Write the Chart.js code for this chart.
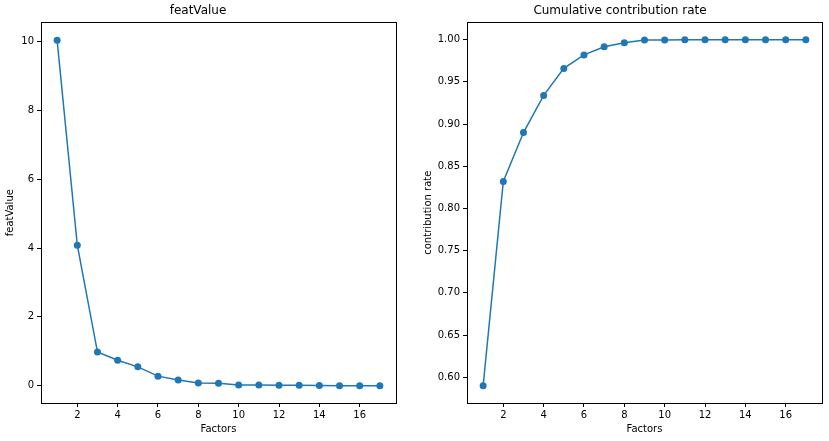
<!DOCTYPE html>
<html lang="en">
<head>
  <meta charset="UTF-8">
  <title>featValue / Cumulative contribution rate</title>
  <script src="https://cdn.jsdelivr.net/npm/chart.js"></script>
  <style>
    body {
      margin: 0;
      background: #fff;
      width: 829px;
      height: 441px;
      position: relative;
      overflow: hidden;
    }
    canvas {
      position: absolute;
      top: 0;
    }
    #featChart { left: 0; }
    #rateChart { left: 418px; }
  </style>
</head>
<body>
  <canvas id="featChart" width="410" height="441"></canvas>
  <canvas id="rateChart" width="411" height="441"></canvas>

  <script>
    // Daten
    const factors = [1, 2, 3, 4, 5, 6, 7, 8, 9, 10, 11, 12, 13, 14, 15, 16, 17];
    const featValue = [10.03, 4.08, 0.98, 0.74, 0.55, 0.28, 0.17, 0.08, 0.07, 0.02, 0.02, 0.015, 0.015, 0.01, 0.004, 0.003, 0.002];
    const cumRate = [0.590, 0.832, 0.890, 0.934, 0.966, 0.982, 0.9917, 0.9965, 0.9995, 0.9997, 0.9998, 0.9999, 0.9999, 1.0, 1.0, 1.0, 1.0];

    const xTicks = [2, 4, 6, 8, 10, 12, 14, 16];
    const featTicks = [0, 2, 4, 6, 8, 10];
    const rateTicks = [0.60, 0.65, 0.70, 0.75, 0.80, 0.85, 0.90, 0.95, 1.00];

    const blue = '#1f77b4';
    const ink = '#000';
    const fontFamily = '"DejaVu Sans", sans-serif';

    // Rahmen um den Plotbereich (wie matplotlib-Spines)
    const frame = {
      id: 'frame',
      afterDatasetsDraw(chart) {
        const a = chart.chartArea;
        const ctx = chart.ctx;
        ctx.save();
        ctx.strokeStyle = ink;
        ctx.lineWidth = 1;
        ctx.strokeRect(Math.round(a.left) + 0.5, Math.round(a.top) + 0.5,
          Math.round(a.right - a.left), Math.round(a.bottom - a.top));
        ctx.restore();
      }
    };

    function makeChart(id, opts) {
      const points = factors.map((f, i) => ({ x: f, y: opts.values[i] }));
      return new Chart(document.getElementById(id), {
        type: 'line',
        data: {
          datasets: [{
            data: points,
            borderColor: blue,
            backgroundColor: blue,
            borderWidth: 1.5,
            pointRadius: 3.5,
            pointBorderWidth: 0,
            pointBackgroundColor: blue,
            tension: 0
          }]
        },
        options: {
          responsive: false,
          animation: false,
          devicePixelRatio: 1,
          layout: { padding: { left: 0, right: opts.rightPad, top: 0, bottom: 0 } },
          plugins: {
            legend: { display: false },
            tooltip: { enabled: false },
            title: {
              display: true,
              text: opts.title,
              color: ink,
              font: { family: fontFamily, size: 12, weight: 'normal' },
              padding: { top: 4, bottom: 4 }
            }
          },
          scales: {
            x: {
              type: 'linear',
              min: 0.2,
              max: 17.8,
              afterBuildTicks: s => { s.ticks = xTicks.map(v => ({ value: v })); },
              afterFit: s => { s.height = 38; },
              border: { display: false },
              grid: { drawOnChartArea: false, drawTicks: true, tickLength: 4, color: ink },
              ticks: { color: ink, padding: 2, maxRotation: 0, font: { family: fontFamily, size: 10 } },
              title: {
                display: true,
                text: 'Factors',
                color: ink,
                font: { family: fontFamily, size: 10 },
                padding: { top: 0, bottom: 6 }
              }
            },
            y: {
              type: 'linear',
              min: opts.yMin,
              max: opts.yMax,
              afterBuildTicks: s => { s.ticks = opts.ticks.map(v => ({ value: v })); },
              afterFit: s => { s.width = opts.yWidth; },
              border: { display: false },
              grid: { drawOnChartArea: false, drawTicks: true, tickLength: 4, color: ink },
              ticks: {
                color: ink,
                padding: 3,
                font: { family: fontFamily, size: 10 },
                callback: opts.fmt
              },
              title: {
                display: true,
                text: opts.yTitle,
                color: ink,
                font: { family: fontFamily, size: 10 },
                padding: { top: 4, bottom: 4 }
              }
            }
          }
        },
        plugins: [frame]
      });
    }

    makeChart('featChart', {
      title: 'featValue',
      yTitle: 'featValue',
      values: featValue,
      ticks: featTicks,
      yMin: -0.5,
      yMax: 10.55,
      yWidth: 41,
      rightPad: 14,
      fmt: v => String(v)
    });

    makeChart('rateChart', {
      title: 'Cumulative contribution rate',
      yTitle: 'contribution rate',
      values: cumRate,
      ticks: rateTicks,
      yMin: 0.5695,
      yMax: 1.0205,
      yWidth: 49,
      rightPad: 7,
      fmt: v => v.toFixed(2)
    });
  </script>
</body>
</html>
